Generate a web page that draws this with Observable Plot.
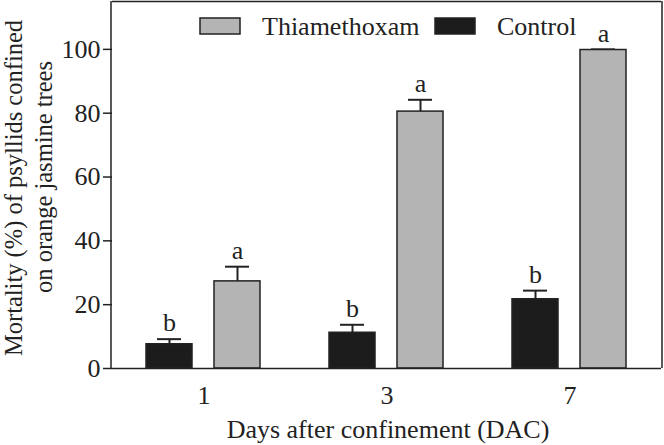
<!DOCTYPE html>
<html><head><meta charset="utf-8">
<script src="https://cdn.jsdelivr.net/npm/d3@7"></script>
<script src="https://cdn.jsdelivr.net/npm/@observablehq/plot@0.6"></script>
<style>body{margin:0;background:#fff}</style>
</head><body><div id="chart"></div>
<script>
const days = ["1", "3", "7"];
const treatments = ["Control", "Thiamethoxam"];
const controlMean = [7.6, 11.2, 21.7];
const controlErr = [1.6, 2.5, 2.7];
const thiaMean = [27.3, 80.5, 99.8];
const thiaErr = [4.6, 3.7, 0.2];
const controlLetters = ["b", "b", "b"];
const thiaLetters = ["a", "a", "a"];
const yTicks = [0, 20, 40, 60, 80, 100];
const yMax = 115;

const data = [];
days.forEach((d, i) => {
  data.push({day: d, trt: "Control", v: controlMean[i], hi: controlMean[i] + controlErr[i], L: controlLetters[i]});
  data.push({day: d, trt: "Thiamethoxam", v: thiaMean[i], hi: thiaMean[i] + thiaErr[i], L: thiaLetters[i]});
});
const font = "'Liberation Serif', 'Times New Roman', serif";
const colors = {Control: "#1c1c1c", Thiamethoxam: "#b4b4b4"};
const ink = "#222";
const fs = 26;

const plot = Plot.plot({
  width: 664, height: 445,
  marginLeft: 111, marginRight: 2, marginTop: 1, marginBottom: 77,
  style: {fontFamily: font, fontSize: fs + "px", color: ink, background: "#fff"},
  fx: {domain: days, paddingInner: 0, paddingOuter: 0, label: null},
  x: {domain: treatments, paddingInner: 0.32, paddingOuter: 0.5, axis: null},
  y: {domain: [0, yMax], label: null},
  color: {domain: treatments, range: treatments.map(t => colors[t])},
  marks: [
    Plot.ruleX(data, {x: "trt", fx: "day", y1: "v", y2: "hi", stroke: ink, strokeWidth: 2}),
    Plot.tickY(data, {x: "trt", fx: "day", y: "hi", stroke: ink, strokeWidth: 2, insetLeft: 11, insetRight: 11}),
    Plot.barY(data, {x: "trt", fx: "day", y: "v", fill: "trt", stroke: ink, strokeWidth: 1.5}),
    Plot.text(data, {x: "trt", fx: "day", y: "hi", text: "L", dy: -16, fontSize: fs, fill: ink}),
    Plot.ruleY([0, yMax], {stroke: ink, strokeWidth: 1.5}),
    Plot.axisY({ticks: yTicks, tickSize: 9, tickPadding: 3, fontSize: fs, stroke: ink, strokeWidth: 1.5}),
    Plot.axisFx({anchor: "bottom", tickSize: 0, tickPadding: 17, fontSize: fs, label: null})
  ]
});
document.getElementById("chart").appendChild(plot);

const svg = d3.select(plot);
const fxr = plot.scale("fx").range, yr = plot.scale("y").range;
// left and right borders of the box, from the scales' ranges
[fxr[0], fxr[1]].forEach(x => {
  svg.append("line").attr("x1", x).attr("x2", x).attr("y1", yr[0]).attr("y2", yr[1])
    .attr("stroke", ink).attr("stroke-width", 1.5);
});
// Legend
const leg = svg.append("g").attr("text-anchor", "start");
const items = [
  {t: "Thiamethoxam", x: 200},
  {t: "Control", x: 435}
];
items.forEach(it => {
  leg.append("rect").attr("x", it.x).attr("y", 18).attr("width", 40).attr("height", 16)
    .attr("fill", colors[it.t]).attr("stroke", ink).attr("stroke-width", 1.5);
  leg.append("text").attr("x", it.x + 62).attr("y", 35).attr("font-family", font)
    .attr("font-size", fs).attr("fill", ink).attr("text-anchor", "start").text(it.t);
});
// Axis titles
svg.append("text").attr("x", 388).attr("y", 438).attr("text-anchor", "middle")
  .attr("font-family", font).attr("font-size", fs).attr("fill", ink)
  .text("Days after confinement (DAC)");
const yl = svg.append("text").attr("transform", "translate(0,188) rotate(-90)")
  .attr("text-anchor", "middle").attr("font-family", font).attr("font-size", 24.5).attr("fill", ink);
yl.append("tspan").attr("x", 0).attr("y", 22).text("Mortality (%) of psyllids confined");
yl.append("tspan").attr("x", 11).attr("y", 52).text("on orange jasmine trees");
</script></body></html>
